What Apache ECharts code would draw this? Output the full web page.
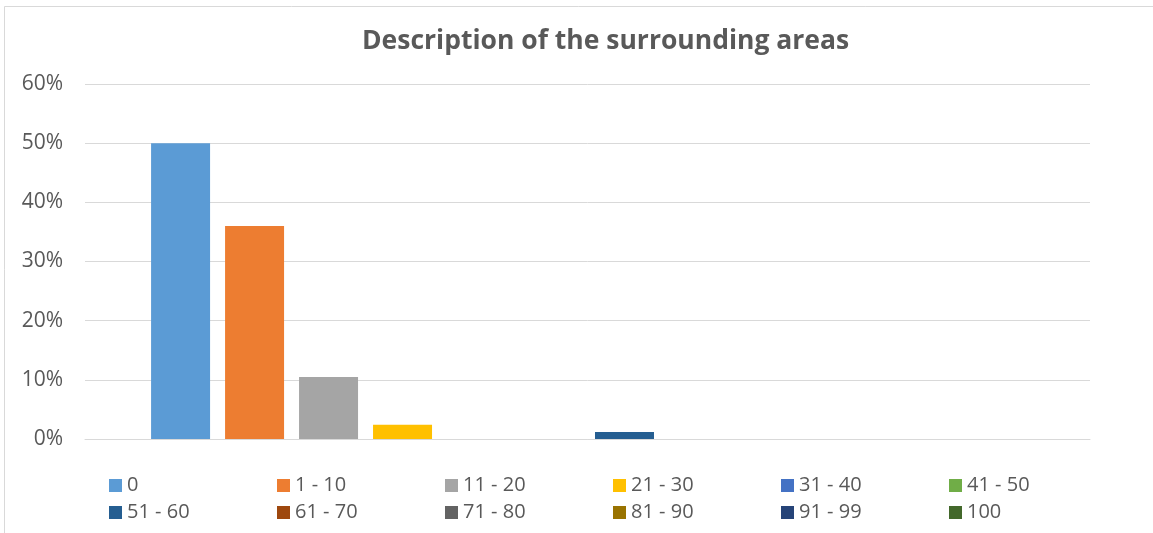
<!DOCTYPE html>
<html>
<head>
<meta charset="utf-8">
<script src="https://cdn.jsdelivr.net/npm/echarts@6/dist/echarts.min.js"></script>
<style>
  html, body { margin: 0; padding: 0; background: #fff; }
  #chart { width: 1153px; height: 533px; }
</style>
</head>
<body>
<div id="chart"></div>
<script>
const categories = ['']
const seriesNames = ['0', '1 - 10', '11 - 20', '21 - 30', '31 - 40', '41 - 50',
  '51 - 60', '61 - 70', '71 - 80', '81 - 90', '91 - 99', '100']
const seriesValues = [50, 36, 10.5, 2.4, 0, 0, 1.2, 0, 0, 0, 0, 0]
const seriesColors = ['#5b9bd5', '#ed7d31', '#a5a5a5', '#ffc000', '#4472c4', '#70ad47',
  '#255e91', '#9e480e', '#636363', '#997300', '#264478', '#43682b']
const yTicks = [0, 10, 20, 30, 40, 50, 60]

const font = '"Open Sans", "Noto Sans", sans-serif'
const chart = echarts.init(document.getElementById('chart'))

chart.setOption({
  backgroundColor: '#fff',
  animation: false,
  title: {
    text: 'Description of the surrounding areas',
    left: 357,
    top: 23,
    textStyle: { fontFamily: font, fontSize: 26.5, fontWeight: 'bold', color: '#595959' },
  },
  graphic: [
    { type: 'line', shape: { x1: 4.5, y1: 6.5, x2: 1153, y2: 6.5 }, style: { stroke: '#d9d9d9', lineWidth: 1 } },
    { type: 'line', shape: { x1: 4.5, y1: 6.5, x2: 4.5, y2: 533 }, style: { stroke: '#d9d9d9', lineWidth: 1 } },
  ],
  grid: { left: 85, right: 63, top: 84, bottom: 94 },
  legend: {
    left: 104,
    top: 467,
    width: 1020,
    itemGap: 0,
    itemWidth: 13,
    itemHeight: 13,
    icon: 'rect',
    textStyle: { fontFamily: font, fontSize: 20, color: '#595959', width: 150, lineHeight: 27, padding: [0, 0, 0, 0] },
    data: seriesNames,
  },
  xAxis: {
    type: 'category',
    data: categories,
    axisLine: { lineStyle: { color: '#d9d9d9', width: 1 } },
    axisTick: { show: false },
    axisLabel: { show: false },
  },
  yAxis: {
    type: 'value',
    min: yTicks[0],
    max: yTicks[yTicks.length - 1],
    interval: 10,
    axisLine: { show: false },
    axisTick: { show: false },
    axisLabel: { fontFamily: font, fontSize: 21, color: '#595959', margin: 22, formatter: '{value}%' },
    splitLine: { lineStyle: { color: '#d9d9d9', width: 1 } },
  },
  series: seriesNames.map((name, i) => ({
    name,
    type: 'bar',
    data: [seriesValues[i]],
    barWidth: 59,
    barGap: '25.4%',
    itemStyle: { color: seriesColors[i] },
  })),
})
</script>
</body>
</html>
